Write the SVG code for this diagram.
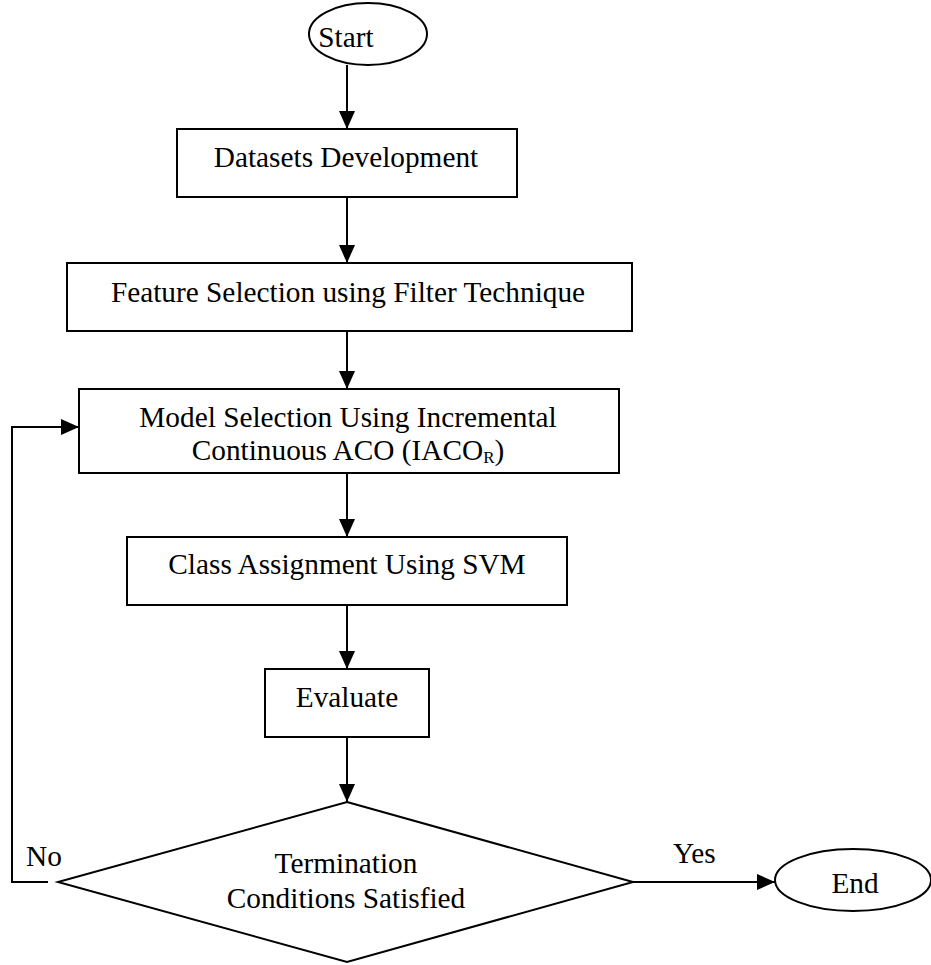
<svg xmlns="http://www.w3.org/2000/svg" width="931" height="965" viewBox="0 0 931 965">
<style>
.shape{fill:#fff;stroke:#000;stroke-width:2}
.t{font-family:"Liberation Serif","Times New Roman",serif;font-size:29.3px;fill:#000;text-anchor:middle}
.lab{font-family:"Liberation Serif","Times New Roman",serif;font-size:29.3px;fill:#000}
.c{fill:none;stroke:#000;stroke-width:2}
</style>
<defs>
<marker id="arr" markerUnits="userSpaceOnUse" markerWidth="18" markerHeight="16" refX="18" refY="8" orient="auto">
<path d="M0,0 L18,8 L0,16 Z" fill="#000"/>
</marker>
</defs>
<rect width="931" height="965" fill="#fff"/>
<g id="connectors">
<line class="c" x1="347" y1="65" x2="347" y2="129" marker-end="url(#arr)"/>
<line class="c" x1="347" y1="197" x2="347" y2="263" marker-end="url(#arr)"/>
<line class="c" x1="347" y1="331" x2="347" y2="389" marker-end="url(#arr)"/>
<line class="c" x1="347" y1="473" x2="347" y2="537" marker-end="url(#arr)"/>
<line class="c" x1="347" y1="605" x2="347" y2="669" marker-end="url(#arr)"/>
<line class="c" x1="347" y1="737" x2="347" y2="802" marker-end="url(#arr)"/>
<line class="c" x1="633" y1="882" x2="775" y2="882" marker-end="url(#arr)"/>
<polyline class="c" points="48,882 12,882 12,427 79,427" marker-end="url(#arr)"/>
<text class="lab" x="673" y="863">Yes</text>
<text class="lab" x="26" y="866">No</text>
</g>
<g id="start">
<ellipse class="shape" cx="368" cy="34" rx="59" ry="31"/>
<text class="t" x="346" y="47">Start</text>
</g>
<g id="datasets">
<rect class="shape" x="177" y="129" width="340" height="68"/>
<text class="t" x="346" y="167">Datasets Development</text>
</g>
<g id="feature">
<rect class="shape" x="67" y="263" width="565" height="68"/>
<text class="t" x="348" y="302">Feature Selection using Filter Technique</text>
</g>
<g id="model">
<rect class="shape" x="79" y="389" width="540" height="84"/>
<text class="t" x="348" y="427">Model Selection Using Incremental</text>
<text class="t" x="348" y="460">Continuous ACO (IACO<tspan font-size="17" dy="3">R</tspan><tspan dy="-3">)</tspan></text>
</g>
<g id="class">
<rect class="shape" x="127" y="537" width="440" height="68"/>
<text class="t" x="347" y="574">Class Assignment Using SVM</text>
</g>
<g id="evaluate">
<rect class="shape" x="265" y="669" width="164" height="68"/>
<text class="t" x="347" y="707">Evaluate</text>
</g>
<g id="decision">
<polygon class="shape" points="347,802 633,882 347,962 58,882"/>
<text class="t" x="346" y="873">Termination</text>
<text class="t" x="346" y="908">Conditions Satisfied</text>
</g>
<g id="end">
<ellipse class="shape" cx="853" cy="880" rx="78" ry="31"/>
<text class="t" x="855" y="893">End</text>
</g>
</svg>
